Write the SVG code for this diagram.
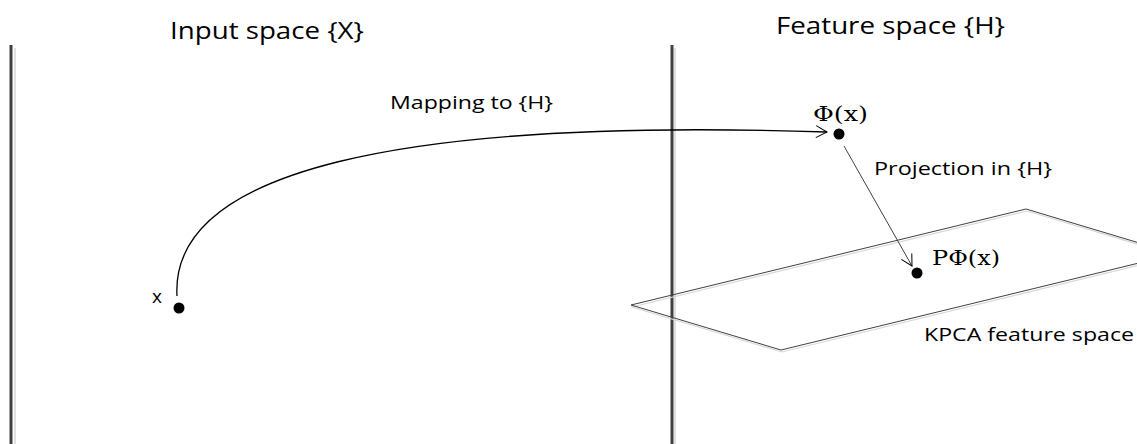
<svg xmlns="http://www.w3.org/2000/svg" width="1137" height="444" viewBox="0 0 1137 444">
<style>
.lbl{font-family:"Open Sans","Liberation Sans",sans-serif;fill:#000}
.math{font-family:"DejaVu Serif","Liberation Serif",serif;fill:#000}
.wall{stroke:#404040;stroke-width:3;fill:none}
.shadow{stroke:#e0e0e0;stroke-width:2;fill:none}
.conn{stroke:#000;stroke-width:1.3;fill:none}
</style>
<defs>
<marker id="open" markerWidth="14" markerHeight="14" refX="12" refY="7" orient="auto" markerUnits="userSpaceOnUse">
<path d="M1,1 L12,7 L1,13" fill="none" stroke="#000" stroke-width="1"/>
</marker>
</defs>
<rect width="1137" height="444" fill="#fff"/>
<g id="input-space">
<line class="shadow" x1="15" y1="48" x2="15" y2="444"/>
<line class="wall" x1="11" y1="45" x2="11" y2="444"/>
<text class="lbl" x="170" y="39" font-size="23" textLength="194" lengthAdjust="spacingAndGlyphs">Input space {X}</text>
</g>
<g id="feature-space">
<line class="shadow" x1="675" y1="48" x2="675" y2="444"/>
<line class="wall" x1="672" y1="45" x2="672" y2="444"/>
<text class="lbl" x="776" y="34" font-size="23" textLength="229" lengthAdjust="spacingAndGlyphs">Feature space {H}</text>
</g>
<g id="kpca-plane">
<polygon points="632,307 1027,211 1177,256 782,352" fill="none" stroke="#d8d8d8" stroke-width="1.2"/>
<polygon points="631,305 1026,209 1176,254 781,350" fill="none" stroke="#404040" stroke-width="1"/>
<text class="lbl" x="924" y="341" font-size="19" textLength="210" lengthAdjust="spacingAndGlyphs">KPCA feature space</text>
</g>
<g id="node-x">
<circle cx="179" cy="308" r="5.5" fill="#000"/>
<text class="lbl" x="152" y="303" font-size="19">x</text>
</g>
<g id="node-phi">
<circle cx="839" cy="134" r="5.5" fill="#000"/>
<text class="math" x="813" y="121" font-size="21" textLength="55" lengthAdjust="spacingAndGlyphs">Φ(x)</text>
</g>
<g id="node-pphi">
<circle cx="917" cy="273" r="5.5" fill="#000"/>
<text class="math" x="932" y="265" font-size="21" textLength="68" lengthAdjust="spacingAndGlyphs">PΦ(x)</text>
</g>
<g id="connectors">
<path class="conn" d="M177,296 C170,170 400,118 827,132" marker-end="url(#open)"/>
<text class="lbl" x="390" y="109" font-size="19" textLength="163" lengthAdjust="spacingAndGlyphs">Mapping to {H}</text>
<line x1="844" y1="146" x2="912" y2="266" stroke="#404040" stroke-width="1" marker-end="url(#open)"/>
<text class="lbl" x="874" y="175" font-size="19" textLength="178" lengthAdjust="spacingAndGlyphs">Projection in {H}</text>
</g>
</svg>
